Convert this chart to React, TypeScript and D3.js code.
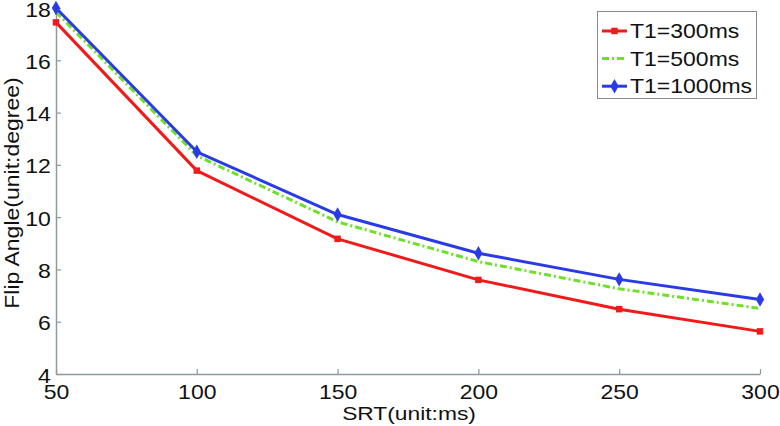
import { useRef, useEffect } from 'react';
import * as d3 from 'd3';

const srt = [50, 100, 150, 200, 250, 300];
const t1_300 = [17.45, 11.78, 9.17, 7.6, 6.48, 5.63];
const t1_500 = [17.85, 12.35, 9.82, 8.3, 7.26, 6.51];
const t1_1000 = [18.0, 12.5, 10.1, 8.62, 7.62, 6.85];
const seriesNames = ['T1=300ms', 'T1=500ms', 'T1=1000ms'];
const yTicks = [4, 6, 8, 10, 12, 14, 16, 18];

const W = 780;
const H = 426;
const FONT = '"Liberation Sans", Arial, sans-serif';
const FS = 20;
const STRETCH = 'scale(1.15,1)';
const AXIS = '#8c9c9c';

const App = () => {
  const ref = useRef<SVGSVGElement>(null);

  useEffect(() => {
    const svg = d3.select(ref.current);
    svg.selectAll('*').remove();

    const x = d3.scaleLinear().domain([50, 300]).range([56, 760]);
    const y = d3.scaleLinear().domain([4, 18]).range([374, 8]);

    // axes: left and bottom only, ticks pointing inward
    const xAxis = svg.append('g')
      .attr('transform', `translate(0,${y(4)})`)
      .call(d3.axisBottom(x).tickValues(srt).tickSizeInner(-5).tickSizeOuter(0).tickPadding(14));
    const yAxis = svg.append('g')
      .attr('transform', `translate(${x(50)},0)`)
      .call(d3.axisLeft(y).tickValues(yTicks).tickSizeInner(-5).tickSizeOuter(0).tickPadding(5));

    [xAxis, yAxis].forEach(g => {
      g.select('.domain').attr('stroke', AXIS).attr('stroke-width', 1.5);
      g.selectAll('.tick line').attr('stroke', AXIS).attr('stroke-width', 1.2);
      g.selectAll('.tick text')
        .attr('fill', '#111')
        .attr('font-family', FONT)
        .attr('font-size', FS)
        .attr('transform', STRETCH);
    });
    xAxis.selectAll('.tick text').attr('y', 10).attr('dy', '0.75em');
    yAxis.selectAll('.tick text').attr('x', -4.5).attr('dy', '0.4em');

    // axis titles
    svg.append('text')
      .attr('transform', `translate(409,420) scale(1.2,1)`)
      .attr('text-anchor', 'middle')
      .attr('font-family', FONT)
      .attr('font-size', 19)
      .attr('fill', '#111')
      .text('SRT(unit:ms)');
    svg.append('text')
      .attr('transform', `translate(19,193) rotate(-90) ${STRETCH}`)
      .attr('text-anchor', 'middle')
      .attr('font-family', FONT)
      .attr('font-size', FS)
      .attr('fill', '#111')
      .text('Flip Angle(unit:degree)');

    const line = d3.line<number>()
      .x((_, i) => x(srt[i]))
      .y(d => y(d));

    const series = [
      { name: seriesNames[0], values: t1_300, color: '#f01a1a', dash: null, marker: 'square' },
      { name: seriesNames[1], values: t1_500, color: '#6ee02a', dash: '7,3,2,3', marker: null },
      { name: seriesNames[2], values: t1_1000, color: '#2a3be6', dash: null, marker: 'diamond' },
    ];

    const sym = (m: string | null) =>
      m === 'square' ? d3.symbol(d3.symbolSquare, 42)() : d3.symbol(d3.symbolDiamond, 60)();

    series.forEach(s => {
      svg.append('path')
        .attr('d', line(s.values))
        .attr('fill', 'none')
        .attr('stroke', s.color)
        .attr('stroke-width', 3)
        .attr('stroke-dasharray', s.dash)
        .attr('stroke-linejoin', 'round');
      if (s.marker) {
        svg.selectAll(null)
          .data(s.values)
          .enter().append('path')
          .attr('d', sym(s.marker))
          .attr('transform', (d, i) => `translate(${x(srt[i])},${y(d)})`)
          .attr('fill', s.color);
      }
    });

    // legend
    const lg = svg.append('g');
    lg.append('rect')
      .attr('x', 597.5)
      .attr('y', 11.5)
      .attr('width', 159)
      .attr('height', 87)
      .attr('fill', '#fff')
      .attr('stroke', '#8a8a8a')
      .attr('stroke-width', 1);
    series.forEach((s, i) => {
      const cy = 31 + i * 27.6;
      lg.append('line')
        .attr('x1', 602).attr('x2', 627)
        .attr('y1', cy).attr('y2', cy)
        .attr('stroke', s.color)
        .attr('stroke-width', 3)
        .attr('stroke-dasharray', s.dash);
      if (s.marker) {
        lg.append('path')
          .attr('d', sym(s.marker))
          .attr('transform', `translate(614.5,${cy})`)
          .attr('fill', s.color);
      }
      lg.append('text')
        .attr('transform', `translate(630,${cy}) ${STRETCH}`)
        .attr('dy', '0.36em')
        .attr('font-family', FONT)
        .attr('font-size', FS)
        .attr('fill', '#111')
        .text(s.name);
    });
  }, []);

  return (
    <svg
      ref={ref}
      width={W}
      height={H}
      style={{ position: 'absolute', left: 0, top: 0, background: '#fff' }}
    />
  );
};

export default App;
